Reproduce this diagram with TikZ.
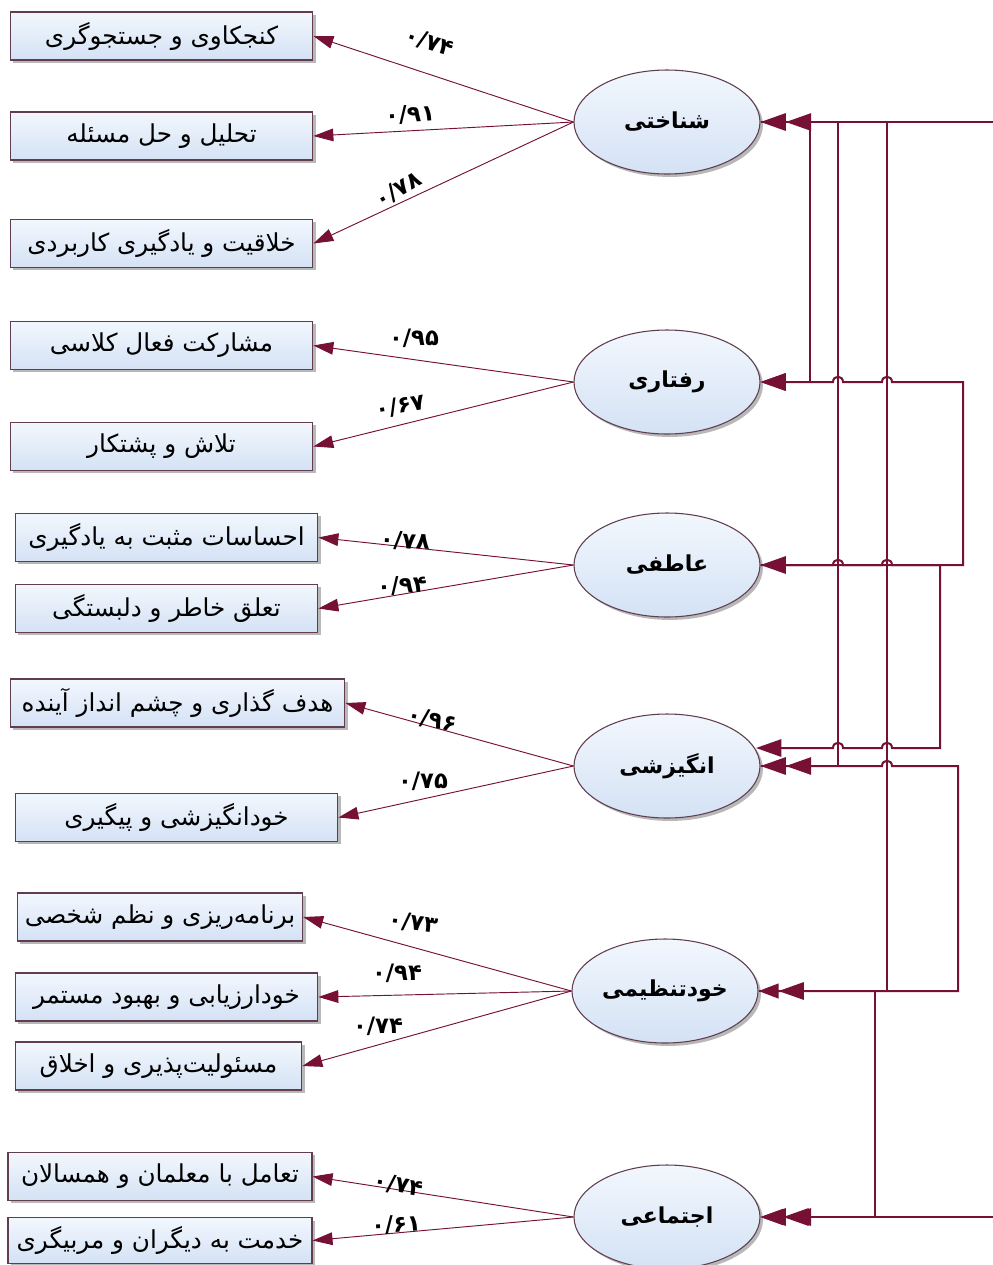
\documentclass[tikz,border=0pt]{standalone}
\usepackage{fontspec}
\TeXXeTstate=1
\newfontfamily\arabicfont[Script=Arabic]{DejaVu Sans}
\usetikzlibrary{arrows.meta,shadows,shapes.geometric}
\definecolor{mar}{RGB}{118,16,52}
\definecolor{edgec}{RGB}{96,62,80}
\definecolor{fillA}{RGB}{242,247,253}
\definecolor{fillB}{RGB}{212,226,245}
\begin{document}
\begin{tikzpicture}[x=0.75pt,y=-0.75pt,
  boxnode/.style={draw=edgec, line width=0.8pt, top color=fillA, bottom color=fillB,
    minimum height=36pt, inner sep=0pt,
    drop shadow={shadow xshift=2.2pt, shadow yshift=-2.2pt, fill=black!55, opacity=0.5},
    font=\arabicfont\fontsize{18.5}{20}\selectfont},
  latent/.style={ellipse, draw=edgec, line width=0.8pt, top color=fillA, bottom color=fillB,
    minimum width=139.5pt, minimum height=78pt, inner sep=0pt,
    drop shadow={shadow xshift=2.2pt, shadow yshift=-2.2pt, fill=black!55, opacity=0.5},
    font=\arabicfont\bfseries\fontsize{16.5}{18}\selectfont},
  load/.style={draw=mar, line width=0.7pt, -{Triangle[length=15pt,width=9.5pt]}},
  lab/.style={font=\arabicfont\bfseries\fontsize{17}{18}\selectfont, inner sep=0pt},
  cov/.style={draw=mar, line width=1.5pt},
]
\useasboundingbox (0,0) rectangle (993,1265);
\clip (0,0) rectangle (993,1265);
\fill[white] (0,0) rectangle (993,1265);

% latent factors
\node[latent] (e1) at (667,122) {\beginR شناختی\endR};
\node[latent] (e2) at (667,382) {\beginR رفتاری\endR};
\node[latent] (e3) at (667,565) {\beginR عاطفی\endR};
\node[latent] (e4) at (667,766) {\beginR انگیزشی\endR};
\node[latent] (e5) at (665,991) {\beginR خودتنظیمی\endR};
\node[latent] (e6) at (667,1217) {\beginR اجتماعی\endR};

% indicators
\node[boxnode, minimum width=227pt] (b1) at (161.5,36) {\beginR کنجکاوی و جستجوگری\endR};
\node[boxnode, minimum width=227pt] (b2) at (161.5,136) {\beginR تحلیل و حل مسئله\endR};
\node[boxnode, minimum width=227pt] (b3) at (161.5,243.5) {\beginR خلاقیت و یادگیری کاربردی\endR};
\node[boxnode, minimum width=227pt] (b4) at (161.5,345.5) {\beginR مشارکت فعال کلاسی\endR};
\node[boxnode, minimum width=227pt] (b5) at (161.5,446.5) {\beginR تلاش و پشتکار\endR};
\node[boxnode, minimum width=227pt] (b6) at (166.5,537.5) {\beginR احساسات مثبت به یادگیری\endR};
\node[boxnode, minimum width=227pt] (b7) at (166.5,608.5) {\beginR تعلق خاطر و دلبستگی\endR};
\node[boxnode, minimum width=251pt] (b8) at (177.5,703) {\beginR هدف گذاری و چشم انداز آینده\endR};
\node[boxnode, minimum width=242pt] (b9) at (176.5,817.5) {\beginR خودانگیزشی و پیگیری\endR};
\node[boxnode, minimum width=214pt] (b10) at (160,917) {\beginR برنامه‌ریزی و نظم شخصی\endR};
\node[boxnode, minimum width=227pt] (b11) at (166.5,997) {\beginR خودارزیابی و بهبود مستمر\endR};
\node[boxnode, minimum width=215pt] (b12) at (158.5,1066) {\beginR مسئولیت‌پذیری و اخلاق\endR};
\node[boxnode, minimum width=228pt] (b13) at (160,1176.5) {\beginR تعامل با معلمان و همسالان\endR};
\node[boxnode, minimum width=228pt, minimum height=34pt] (b14) at (160,1240.5) {\beginR خدمت به دیگران و مربیگری\endR};

% loadings
\draw[load] (e1.west) -- (b1.east);
\draw[load] (e1.west) -- (b2.east);
\draw[load] (e1.west) -- (b3.east);
\draw[load] (e2.west) -- (b4.east);
\draw[load] (e2.west) -- (b5.east);
\draw[load] (e3.west) -- (b6.east);
\draw[load] (e3.west) -- (b7.east);
\draw[load] (e4.west) -- (b8.east);
\draw[load] (e4.west) -- (b9.east);
\draw[load] (e5.west) -- (b10.east);
\draw[load] (e5.west) -- (b11.east);
\draw[load] (e5.west) -- (b12.east);
\draw[load] (e6.west) -- (b13.east);
\draw[load] (e6.west) -- (b14.east);

\node[lab, rotate=-18] (l1) at (429,42) {۰/۷۴};
\node[lab, rotate=4] (l2) at (410,115) {۰/۹۱};
\node[lab, rotate=30] (l3) at (398,190) {۰/۷۸};
\node[lab] (l4) at (414,338) {۰/۹۵};
\node[lab, rotate=10] (l5) at (400,406) {۰/۶۷};
\node[lab, rotate=-4] (l6) at (405,541) {۰/۷۸};
\node[lab, rotate=4] (l7) at (402,586) {۰/۹۴};
\node[lab, rotate=-12] (l8) at (432,720) {۰/۹۶};
\node[lab] (l9) at (423,781) {۰/۷۵};
\node[lab, rotate=-8] (l10) at (413,923) {۰/۷۳};
\node[lab] (l11) at (397,973) {۰/۹۴};
\node[lab] (l12) at (378,1026) {۰/۷۴};
\node[lab, rotate=-10] (l13) at (398,1185) {۰/۷۴};
\node[lab, rotate=3] (l14) at (396,1225) {۰/۶۱};

% covariances
\coordinate (p4a) at (756,748);
\draw[cov, {Triangle[length=19pt,width=13pt,sep=0pt]Triangle[length=19pt,width=13pt,sep=0pt]}-{Triangle[length=19pt,width=13pt]}]
  (e1.east) -- (810,122) -- (810,382) -- (e2.east);
\draw[cov] (e1.east) -- (838,122) -- (838,766) -- (e4.east);
\draw[cov] (e1.east) -- (887,122) -- (887,991) -- (e5.east);
\draw[cov, -{Triangle[length=19pt,width=13pt,sep=0pt]Triangle[length=19pt,width=13pt,sep=0pt]}]
  (e1.east) -- (1010,122) -- (1010,1217) -- (e6.east);
\draw[cov, {Triangle[length=19pt,width=13pt]}-{Triangle[length=19pt,width=13pt]}]
  (e2.east) -- (833,382) .. controls (833,375) and (843,375) .. (843,382)
  -- (882,382) .. controls (882,375) and (892,375) .. (892,382)
  -- (963,382) -- (963,565)
  -- (892,565) .. controls (892,558) and (882,558) .. (882,565)
  -- (843,565) .. controls (843,558) and (833,558) .. (833,565)
  -- (e3.east);
\draw[cov, -{Triangle[length=19pt,width=13pt]}]
  (e3.east) -- (940,565) -- (940,748)
  -- (892,748) .. controls (892,741) and (882,741) .. (882,748)
  -- (843,748) .. controls (843,741) and (833,741) .. (833,748)
  -- (p4a);
\draw[cov, {Triangle[length=19pt,width=13pt,sep=0pt]Triangle[length=19pt,width=13pt,sep=0pt]}-{Triangle[length=19pt,width=13pt,sep=0pt]Triangle[length=15pt,width=11pt,sep=0pt]}]
  (e4.east) -- (882,766) .. controls (882,759) and (892,759) .. (892,766)
  -- (958,766) -- (958,991) -- (e5.east);
\draw[cov, -{Triangle[length=19pt,width=13pt,sep=0pt]Triangle[length=17pt,width=12pt,sep=0pt]}]
  (e5.east) -- (875,991) -- (875,1217) -- (e6.east);
\end{tikzpicture}
\end{document}
